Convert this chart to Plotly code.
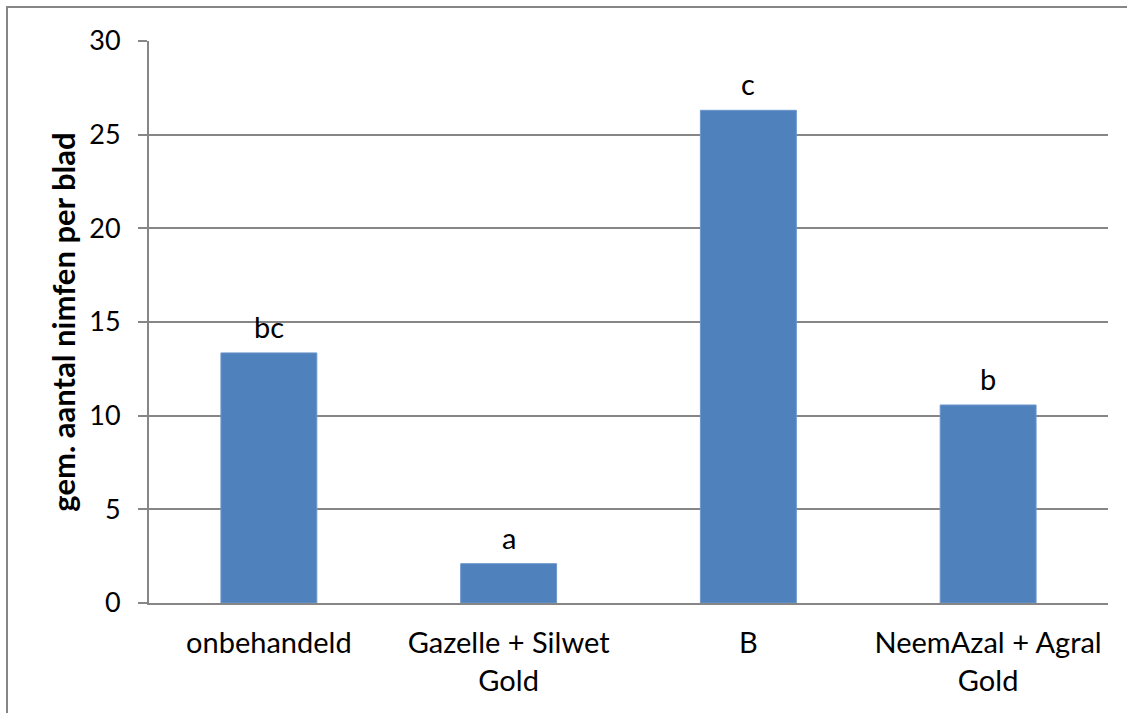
import plotly.graph_objects as go

categories = ["onbehandeld", "Gazelle + Silwet<br>Gold", "B", "NeemAzal + Agral<br>Gold"]
values = [13.35, 2.1, 26.3, 10.57]
letters = ["bc", "a", "c", "b"]
y_title = "gem. aantal nimfen per blad"

FONT = "Lato, 'Open Sans', sans-serif"
W, H = 1127, 713
L, R, T, B = 149, 19, 41, 110
pw, ph = W - L - R, H - T - B

fig = go.Figure(go.Bar(
    x=categories, y=values,
    marker=dict(color="#4F81BD", line=dict(color="#6d97cc", width=1)),
))

for c, v, t in zip(categories, values, letters):
    fig.add_annotation(x=c, y=v, text=t, showarrow=False, yanchor="bottom",
                       yshift=7, font=dict(size=29, color="#000000", family=FONT))

fig.update_layout(
    width=W, height=H,
    margin=dict(l=L, r=R, t=T, b=B, pad=0),
    paper_bgcolor="white", plot_bgcolor="white",
    bargap=0.6,
    showlegend=False,
    font=dict(family=FONT, size=29, color="#000000"),
    xaxis=dict(showline=True, linecolor="#868686", linewidth=2, ticks="",
               tickfont=dict(size=29, family=FONT), showgrid=False,
               ticklabelstandoff=13),
    yaxis=dict(range=[0, 30], dtick=5, showline=True, linecolor="#868686", linewidth=2,
               ticks="outside", ticklen=9, tickcolor="#868686", tickwidth=2,
               gridcolor="#868686", gridwidth=2, zeroline=False,
               tickfont=dict(size=27, family=FONT), ticklabelstandoff=12,
               title=dict(text="<b>" + y_title + "</b>", font=dict(size=31, family=FONT), standoff=4)),
    shapes=[dict(type="rect", xref="paper", yref="paper",
                 x0=(7 - L) / pw, x1=(W + 5 - L) / pw,
                 y0=(T + ph - (H + 5)) / ph, y1=(T + ph - 7) / ph,
                 line=dict(color="#868686", width=2), fillcolor="rgba(0,0,0,0)", layer="below")],
)

fig.write_html("out.html", config={"displayModeBar": False},
               post_script="document.body.style.margin='0';")
